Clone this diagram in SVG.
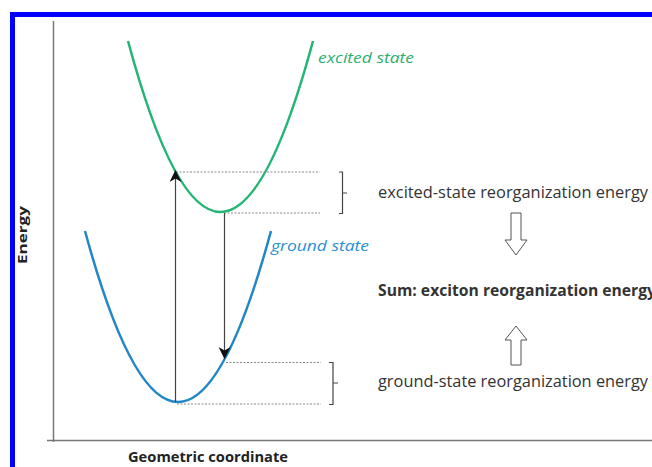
<svg xmlns="http://www.w3.org/2000/svg" width="652" height="467" viewBox="0 0 652 467">
<style>
.axis{stroke:#777;stroke-width:1.5;fill:none}
.curve{fill:none;stroke-width:2.5}
.dot{stroke:#888;stroke-width:1;stroke-dasharray:2 1.5;fill:none}
.brace{stroke:#444;stroke-width:1.2;fill:none}
.varrow{stroke:#444;stroke-width:1.2;fill:none}
.hollow{fill:#fff;stroke:#555;stroke-width:1}
.lbl{font-family:"Open Sans","Noto Sans",sans-serif;font-size:15.5px;fill:#333}
.ax{font-family:"Open Sans","Noto Sans",sans-serif;font-weight:bold;fill:#222}
.st{font-family:"Open Sans","Noto Sans",sans-serif;font-style:italic;font-size:15px}
</style>
<defs>
<marker id="ah" markerWidth="12" markerHeight="12" refX="11" refY="6" orient="auto" markerUnits="userSpaceOnUse">
<path d="M0,0 L12,6 L0,12 L3.5,6 Z" fill="#111"/>
</marker>
</defs>
<rect width="652" height="467" fill="#fff"/>
<rect x="12.5" y="14.5" width="700" height="500" fill="none" stroke="#0000ff" stroke-width="5"/>
<g id="axes">
<line class="axis" x1="53.5" y1="21" x2="53.5" y2="442"/>
<line class="axis" x1="47" y1="440.5" x2="660" y2="440.5"/>
<text class="ax" font-size="12" transform="translate(27,235) rotate(-90)" text-anchor="middle" textLength="58" lengthAdjust="spacingAndGlyphs">Energy</text>
<text class="ax" font-size="14" x="208" y="462" text-anchor="middle" textLength="160" lengthAdjust="spacingAndGlyphs">Geometric coordinate</text>
</g>
<g id="excited-state">
<path class="curve" stroke="#22b573" d="M128,41 Q220.5,383 313,41"/>
<text class="st" fill="#2bb070" x="318" y="63" textLength="96" lengthAdjust="spacingAndGlyphs">excited state</text>
</g>
<g id="ground-state">
<path class="curve" stroke="#1f86c8" d="M85,231 Q178,573 271,231"/>
<text class="st" fill="#2a90d0" x="271" y="251" textLength="98" lengthAdjust="spacingAndGlyphs">ground state</text>
</g>
<g id="levels">
<line class="dot" x1="176" y1="172" x2="320" y2="172"/>
<line class="dot" x1="224" y1="213" x2="320" y2="213"/>
<line class="dot" x1="226" y1="362.5" x2="321" y2="362.5"/>
<line class="dot" x1="177" y1="404" x2="321" y2="404"/>
</g>
<g id="connectors">
<line class="varrow" x1="175.5" y1="402" x2="175.5" y2="171" marker-end="url(#ah)"/>
<line class="varrow" x1="224.5" y1="213" x2="224.5" y2="358" marker-end="url(#ah)"/>
<path class="hollow" d="M511,213 H521 V240 H527 L516,255 L505,240 H511 Z"/>
<path class="hollow" d="M511,365 H521 V340 H527 L516,326 L505,340 H511 Z"/>
</g>
<g id="excited-reorg">
<path class="brace" d="M339,172 H342.5 V213.5 H339 M342.5,193 H347"/>
<text class="lbl" x="378" y="198" textLength="270" lengthAdjust="spacingAndGlyphs">excited-state reorganization energy</text>
</g>
<g id="sum">
<text class="lbl" font-weight="bold" x="378" y="296" textLength="278" lengthAdjust="spacingAndGlyphs" fill="#222">Sum: exciton reorganization energy</text>
</g>
<g id="ground-reorg">
<path class="brace" d="M329,362.5 H333 V404.5 H329 M333,383 H338"/>
<text class="lbl" x="378" y="387" textLength="270" lengthAdjust="spacingAndGlyphs">ground-state reorganization energy</text>
</g>
</svg>
